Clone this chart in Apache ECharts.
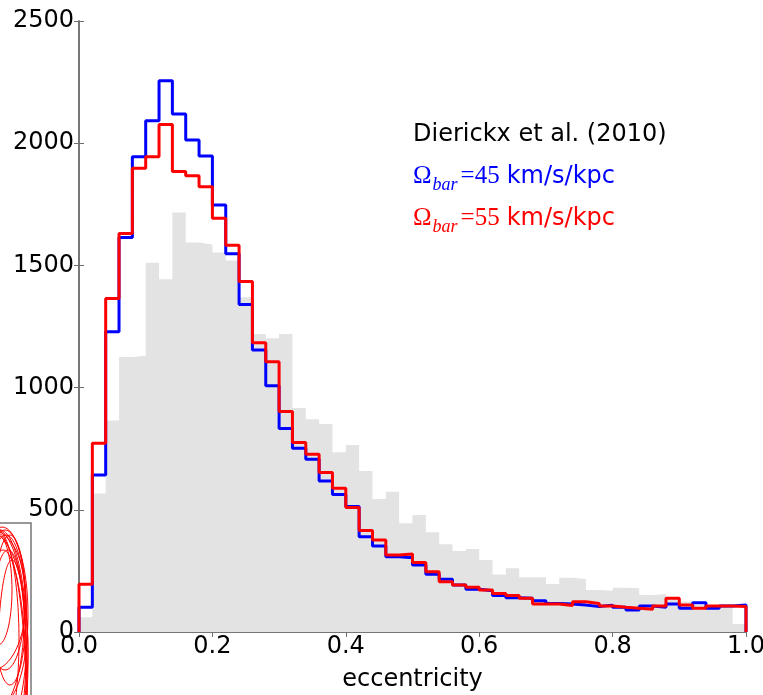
<!DOCTYPE html>
<html><head><meta charset="utf-8">
<script src="https://cdn.jsdelivr.net/npm/echarts@6/dist/echarts.min.js"></script>
<style>html,body{margin:0;padding:0;background:#fff}#c{width:763px;height:695px}</style>
</head><body><div id="c"></div>
<script>
const binWidth = 0.02;
const xTicks = [0, 0.2, 0.4, 0.6, 0.8, 1.0];
const yTicks = [0, 500, 1000, 1500, 2000, 2500];
const grayCounts = [60, 567, 865, 1125, 1130, 1511, 1443, 1716, 1594, 1586,
  1553, 1520, 1370, 1219, 1202, 1219, 917, 871, 851, 735,
  765, 659, 544, 574, 445, 479, 408, 359, 331, 340,
  295, 235, 261, 224, 224, 196, 222, 217, 172, 169,
  181, 179, 151, 155, 140, 125, 110, 105, 100, 33];
const blueCounts = [101, 642, 1229, 1614, 1945, 2092, 2256, 2119, 2013, 1948,
  1747, 1548, 1340, 1154, 1008, 833, 752, 707, 618, 563,
  513, 390, 352, 308, 304, 274, 236, 216, 192, 175,
  169, 149, 140, 138, 128, 117, 115, 110, 104, 110,
  101, 90, 106, 101, 115, 97, 120, 97, 106, 110];
const redCounts = [195, 772, 1365, 1631, 1897, 1945, 2077, 1884, 1867, 1822,
  1693, 1582, 1434, 1184, 1106, 902, 775, 727, 653, 588,
  509, 415, 376, 315, 319, 284, 247, 206, 192, 183,
  172, 158, 149, 138, 115, 115, 108, 124, 117, 106,
  101, 97, 93, 106, 138, 110, 97, 106, 106, 104];

function stepData(counts) {
  const n = counts.length;
  const pts = [[0, 0]];
  counts.forEach((v, i) => pts.push([+(i * binWidth).toFixed(4), v]));
  const end = +(n * binWidth).toFixed(4);
  pts.push([end, counts[n - 1]]);
  pts.push([end, 0]);
  return pts;
}

const FONT = "'DejaVu Sans', sans-serif";
const axisLineStyle = { color: '#6e6e6e', width: 1.5 };

function mkX(main) {
  return {
    type: 'value', min: xTicks[0], max: xTicks[xTicks.length - 1], interval: 0.2,
    position: main ? 'bottom' : 'top',
    axisLine: { show: true, lineStyle: axisLineStyle },
    axisTick: { show: true, inside: true, length: 5, lineStyle: { color: '#6e6e6e', width: 1 } },
    axisLabel: main ? { show: true, formatter: v => v.toFixed(1), fontSize: 24, fontFamily: FONT, color: '#000', margin: 3, showMinLabel: true, showMaxLabel: true, hideOverlap: false } : { show: false },
    splitLine: { show: false },
    name: main ? 'eccentricity' : '', nameLocation: 'middle', nameGap: 36,
    nameTextStyle: { fontSize: 24, fontFamily: FONT, color: '#000' }
  };
}
function mkY(main) {
  return {
    type: 'value', min: yTicks[0], max: yTicks[yTicks.length - 1], interval: 500,
    position: main ? 'left' : 'right',
    axisLine: { show: true, lineStyle: axisLineStyle },
    axisTick: { show: true, inside: true, length: 5, lineStyle: { color: '#6e6e6e', width: 1 } },
    axisLabel: main ? { show: true, formatter: v => String(v), fontSize: 24, fontFamily: FONT, color: '#000', margin: 5, showMinLabel: true, showMaxLabel: true } : { show: false },
    splitLine: { show: false }
  };
}

const ellipses = [
  [2, 615, 26, 88], [-3, 640, 22, 110], [5, 600, 20, 70], [0, 660, 28, 130],
  [-6, 620, 30, 92], [8, 650, 18, 100], [3, 700, 24, 150], [-2, 590, 14, 55],
  [10, 610, 16, 75], [-8, 600, 34, 70], [12, 680, 15, 120], [-4, 700, 30, 168],
  [6, 630, 21, 95], [-10, 650, 38, 118]
].map(e => ({ type: 'ellipse', z: 6, shape: { cx: e[0], cy: e[1], rx: e[2], ry: e[3] }, style: { fill: null, stroke: '#ff0000', lineWidth: 1 } }));

function omegaRich(color) {
  return {
    om: { fontFamily: 'Liberation Serif', fontSize: 25, color: color, verticalAlign: 'bottom', padding: [0, 0, 5, 0] },
    sub: { fontFamily: 'Liberation Serif', fontStyle: 'italic', fontSize: 18, color: color, verticalAlign: 'bottom', padding: [0, 1, 0, 1] },
    eq: { fontFamily: 'Liberation Serif', fontSize: 25, color: color, verticalAlign: 'bottom', padding: [0, 0, 5, 2] },
    u: { fontFamily: FONT, fontSize: 24, color: color, verticalAlign: 'bottom', padding: [0, 0, 5, 7] }
  };
}

const chart = echarts.init(document.getElementById('c'), null, { renderer: 'canvas' });
chart.setOption({
  animation: false,
  backgroundColor: '#fff',
  grid: { left: 79, right: 17, top: 21, bottom: 63, containLabel: false, outerBoundsMode: 'none' },
  xAxis: [mkX(true), mkX(false)],
  yAxis: [mkY(true), mkY(false)],
  series: [
    { type: 'line', step: 'end', data: stepData(grayCounts), showSymbol: false, symbol: 'none',
      lineStyle: { width: 0, color: '#e3e3e3' }, areaStyle: { color: '#e3e3e3', opacity: 1 }, z: 1, clip: true },
    { type: 'line', step: 'end', data: stepData(blueCounts), showSymbol: false, symbol: 'none',
      lineStyle: { width: 3, color: '#0000ff' }, z: 2, clip: true },
    { type: 'line', step: 'end', data: stepData(redCounts), showSymbol: false, symbol: 'none',
      lineStyle: { width: 3, color: '#ff0000' }, z: 3, clip: true }
  ],
  graphic: [
    { type: 'text', left: 413, top: 123, z: 10,
      style: { text: 'Dierickx et al. (2010)', font: "24px 'DejaVu Sans', sans-serif", fill: '#000' } },
    { type: 'text', left: 413, top: 164, z: 10,
      style: { text: '{om|Ω}{sub|bar}{eq|=45}{u|km/s/kpc}', fill: '#0000ff', rich: omegaRich('#0000ff') } },
    { type: 'text', left: 413, top: 206, z: 10,
      style: { text: '{om|Ω}{sub|bar}{eq|=55}{u|km/s/kpc}', fill: '#ff0000', rich: omegaRich('#ff0000') } },
    { type: 'rect', z: 5, shape: { x: -10, y: 523, width: 41, height: 200 }, style: { fill: '#fff', stroke: '#777', lineWidth: 1.5 } }
  ].concat(ellipses)
});
</script></body></html>
